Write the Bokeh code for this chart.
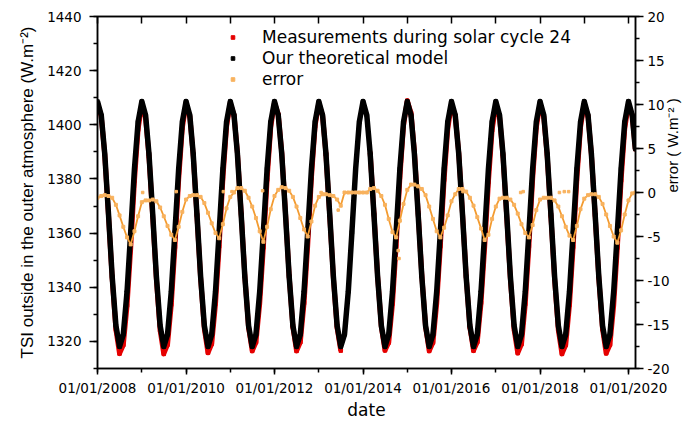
import math
import numpy as np
import pandas as pd
from bokeh.plotting import figure
from bokeh.models import (Range1d, LinearAxis, DatetimeAxis, FixedTicker, DatetimeTickFormatter,
                          CustomJSTickFormatter, CustomLabelingPolicy, Legend, LegendItem,
                          ColumnDataSource, Title)
from bokeh.embed import file_html
from bokeh.resources import INLINE

# ---------------- data (monthly readings, 1st of each month) ----------------
dates = list(pd.date_range("2008-01-01", "2020-02-01", freq="MS")) + [pd.Timestamp("2020-02-27")]

model = [
    1408.6, 1403.5, 1389.2, 1366.8, 1344.0, 1325.8, 1318.1, 1322.6, 1338.4, 1360.3, 1383.7, 1401.0,  # 2008
    1408.6, 1403.5, 1389.2, 1366.8, 1344.0, 1325.8, 1318.1, 1322.6, 1338.4, 1360.3, 1383.7, 1401.0,  # 2009
    1408.6, 1403.5, 1389.2, 1366.8, 1344.0, 1325.8, 1318.1, 1322.6, 1338.4, 1360.3, 1383.7, 1401.0,  # 2010
    1408.6, 1403.5, 1389.2, 1366.8, 1344.0, 1325.8, 1318.1, 1322.6, 1338.4, 1360.3, 1383.7, 1401.0,  # 2011
    1408.6, 1403.5, 1389.2, 1366.8, 1344.0, 1325.8, 1318.1, 1322.6, 1338.4, 1360.3, 1383.7, 1401.0,  # 2012
    1408.6, 1403.5, 1389.2, 1366.8, 1344.0, 1325.8, 1318.1, 1322.6, 1338.4, 1360.3, 1383.7, 1401.0,  # 2013
    1408.6, 1403.5, 1389.2, 1366.8, 1344.0, 1325.8, 1318.1, 1322.6, 1338.4, 1360.3, 1383.7, 1401.0,  # 2014
    1408.6, 1403.5, 1389.2, 1366.8, 1344.0, 1325.8, 1318.1, 1322.6, 1338.4, 1360.3, 1383.7, 1401.0,  # 2015
    1408.6, 1403.5, 1389.2, 1366.8, 1344.0, 1325.8, 1318.1, 1322.6, 1338.4, 1360.3, 1383.7, 1401.0,  # 2016
    1408.6, 1403.5, 1389.2, 1366.8, 1344.0, 1325.8, 1318.1, 1322.6, 1338.4, 1360.3, 1383.7, 1401.0,  # 2017
    1408.6, 1403.5, 1389.2, 1366.8, 1344.0, 1325.8, 1318.1, 1322.6, 1338.4, 1360.3, 1383.7, 1401.0,  # 2018
    1408.6, 1403.5, 1389.2, 1366.8, 1344.0, 1325.8, 1318.1, 1322.6, 1338.4, 1360.3, 1383.7, 1401.0,  # 2019
    1408.6, 1403.5, 1391.0,                                                                          # 2020
]

nan = float("nan")
measured = [
    1408.0, 1403.1, 1388.9, 1366.4, 1343.4, 1324.4, 1315.5, 1318.7, 1333.3, 1354.4, 1379.3, 1398.3,  # 2008
    1407.5, 1402.6, 1388.3, 1366.0, 1343.0, 1324.1, 1315.4, 1318.8, 1333.6, 1354.9, 1379.8, 1398.8,  # 2009
    1407.8, 1403.1, 1388.9, 1366.5, 1343.5, 1324.6, 1315.8, 1319.1, 1333.8, 1355.1, 1380.1, 1399.2,  # 2010
    1408.1, 1403.5, 1389.7, 1367.3, 1344.2, 1325.2, 1316.5, 1319.7, 1334.0, 1354.7, 1379.8, 1399.1,  # 2011
    1408.2, 1403.8, 1389.8, 1367.3, 1344.2, 1325.3, 1316.5, 1319.7, 1334.2, 1355.3, 1380.4, 1399.5,  # 2012
    1408.1, 1403.3, 1389.0, 1366.5, 1343.6, 1325.0, 1316.6, nan, nan, nan, nan, nan,                # 2013
    nan, nan, 1389.6, 1367.3, 1344.2, 1325.4, 1316.7, 1319.6, 1333.9, 1355.2, 1380.5, 1399.7,       # 2014
    1408.9, 1404.4, 1390.1, 1367.5, 1344.4, 1325.5, 1316.5, 1319.6, 1334.0, 1355.2, 1379.7, 1398.4,  # 2015
    1407.6, 1403.3, 1389.6, 1367.2, 1344.1, 1325.2, 1316.6, 1319.8, 1334.3, 1354.9, 1378.9, 1398.0,  # 2016
    1407.0, 1402.8, 1388.6, 1366.2, 1343.2, 1324.4, 1315.7, 1319.0, 1333.8, 1355.2, 1380.0, 1399.0,  # 2017
    1407.8, 1402.9, 1388.6, 1366.2, 1343.1, 1324.2, 1315.4, 1318.7, 1333.5, 1354.9, 1379.9, 1399.1,  # 2018
    1407.9, 1403.2, 1389.0, 1366.6, 1343.5, 1324.5, 1315.6, 1318.8, 1333.4, 1354.6, 1379.4, 1398.5,  # 2019
    1407.7, 1403.4, 1391.0,                                                                          # 2020
]

error = [
    -0.6, -0.4, -0.3, -0.4, -0.6, -1.4, -2.6, -3.9, -5.1, -5.9, -4.4, -2.7,  # 2008
    -1.1, -0.9, -0.9, -0.8, -1.0, -1.7, -2.7, -3.8, -4.8, -5.4, -3.9, -2.2,  # 2009
    -0.8, -0.4, -0.3, -0.3, -0.5, -1.2, -2.3, -3.5, -4.6, -5.2, -3.6, -1.8,  # 2010
    -0.5, 0.0, 0.5, 0.5, 0.2, -0.6, -1.6, -2.9, -4.4, -5.6, -3.9, -1.9,      # 2011
    -0.4, 0.3, 0.6, 0.5, 0.2, -0.5, -1.6, -2.9, -4.2, -5.0, -3.3, -1.5,      # 2012
    -0.5, -0.2, -0.2, -0.3, -0.4, -0.8, -1.5, 0.0, 0.0, 0.0, 0.0, 0.0,       # 2013
    0.0, 0.0, 0.4, 0.5, 0.2, -0.4, -1.4, -3.0, -4.5, -5.1, -3.2, -1.3,       # 2014
    0.3, 0.9, 0.9, 0.7, 0.4, -0.3, -1.6, -3.0, -4.4, -5.1, -4.0, -2.6,       # 2015
    -1.0, -0.2, 0.4, 0.4, 0.1, -0.6, -1.5, -2.8, -4.1, -5.4, -4.8, -3.0,     # 2016
    -1.6, -0.7, -0.6, -0.6, -0.8, -1.4, -2.4, -3.6, -4.6, -5.1, -3.7, -2.0,  # 2017
    -0.8, -0.6, -0.6, -0.6, -0.9, -1.6, -2.7, -3.9, -4.9, -5.4, -3.8, -1.9,  # 2018
    -0.7, -0.3, -0.2, -0.2, -0.5, -1.3, -2.5, -3.8, -5.0, -5.7, -4.3, -2.5,  # 2019
    -0.9, -0.1, 0.0,                                                         # 2020
]

stray_dates = ["2009-01-08", "2009-10-12", "2010-11-05", "2011-01-15", "2011-09-25", "2013-01-20",
               "2013-06-10", "2016-04-05", "2017-07-25", "2017-08-15", "2018-06-10", "2018-07-20",
               "2018-08-25", "2014-10-18", "2014-10-25"]
stray_error = [0.0, 0.1, 0.1, 0.1, 0.2, 0.0, -2.0, 0.1, 0.0, 0.1, 0.0, 0.1, 0.1, -6.6, -7.5]

tsi_major = [1320, 1340, 1360, 1380, 1400, 1420, 1440]
tsi_minor = [1310, 1320, 1330, 1340, 1350, 1360, 1370, 1380, 1390, 1400, 1410, 1420, 1430, 1440]
err_major = [-20, -15, -10, -5, 0, 5, 10, 15, 20]
err_minor = [-20, -17.5, -15, -12.5, -10, -7.5, -5, -2.5, 0, 2.5, 5, 7.5, 10, 12.5, 15, 17.5, 20]
label_years = [2008, 2010, 2012, 2014, 2016, 2018, 2020]
all_years = list(range(2008, 2021))

x_title = "date"
y_title = "TSI outside in the outer atmosphere (W.m\u207b\u00b2)"
y2_title = "error ( W.m\u207b\u00b2 )"
series_names = ["Measurements during solar cycle 24", "Our theoretical model", "error"]

# ---------------- figure ----------------
def ms(y):
    return pd.Timestamp(f"{y}-01-01").value / 1e6

src = ColumnDataSource(dict(date=np.array(dates, dtype="datetime64[ns]"),
                            model=np.array(model, dtype=float),
                            measured=np.array(measured, dtype=float),
                            error=np.array(error, dtype=float)))
stray = ColumnDataSource(dict(date=pd.to_datetime(stray_dates), error=stray_error))

p = figure(width=692, height=423, x_axis_type="datetime",
           x_range=Range1d(pd.Timestamp("2008-01-01"), pd.Timestamp("2020-02-28")),
           y_range=Range1d(1310, 1440),
           output_backend="svg", toolbar_location=None,
           min_border_left=97, min_border_right=57, min_border_top=16, min_border_bottom=55)
p.extra_y_ranges = {"err": Range1d(-20, 20)}
p.grid.visible = False
p.outline_line_color = "black"
p.outline_line_width = 1.5
p.background_fill_color = "white"
p.border_fill_color = "white"

RED = "#e50000"
ORANGE = "#f39b30"
ORANGE_PT = "#f8b25e"

p.line("date", "measured", source=src, color=RED, line_width=5, line_join="round")
r_red = p.scatter("date", "measured", source=src, marker="square", size=3.5, color=RED)
p.line("date", "model", source=src, color="black", line_width=5.5, line_join="round")
r_black = p.scatter("date", "model", source=src, marker="square", size=3.5, color="black")
p.line("date", "error", source=src, color=ORANGE, line_width=1.8, line_join="round", y_range_name="err")
r_err = p.scatter("date", "error", source=src, marker="square", size=3, color=ORANGE_PT, y_range_name="err")
p.scatter("date", "error", source=stray, marker="square", size=2.5, color=ORANGE_PT, y_range_name="err")

FONT = "DejaVu Sans"

# bottom axis
xa = p.xaxis[0]
xa.ticker = FixedTicker(ticks=[ms(y) for y in label_years], minor_ticks=[ms(y) for y in all_years])
fmt = "%m/%d/%Y"
xa.formatter = DatetimeTickFormatter(years=fmt, months=fmt, days=fmt, hours=fmt, minutes=fmt,
                                     seconds=fmt, milliseconds=fmt, hourmin=fmt, minsec=fmt)
xa.axis_label = x_title

# left axis
ya = p.yaxis[0]
ya.ticker = FixedTicker(ticks=tsi_major, minor_ticks=tsi_minor)

# right axis
ra = LinearAxis(y_range_name="err")
ra.ticker = FixedTicker(ticks=err_major, minor_ticks=err_minor)
ra.formatter = CustomJSTickFormatter(code="return tick.toString()")
ra.axis_label = y2_title
ra.axis_label_orientation = math.pi / 2
p.add_layout(ra, "right")

# top axis (ticks only, no labels)
ta = DatetimeAxis()
ta.ticker = FixedTicker(ticks=[ms(y) for y in all_years], minor_ticks=[])
ta.major_label_policy = CustomLabelingPolicy(code="return []")
ta.major_label_standoff = 0
ta.major_tick_out = 0
ta.major_tick_in = 7
ta.minor_tick_out = 0
ta.minor_tick_in = 0
ta.axis_line_width = 1.5
ta.major_tick_line_width = 1.5
p.add_layout(ta, "above")

for ax in (xa, ya, ra):
    ax.axis_line_width = 1.5
    ax.major_tick_line_width = 1.5
    ax.minor_tick_line_width = 1.5
    ax.major_tick_in = 0
    ax.minor_tick_in = 0
    ax.major_label_text_font = FONT
    ax.major_label_text_font_size = "13.5px"
    ax.major_label_text_color = "black"
    ax.axis_label_text_font_style = "normal"
    ax.axis_label_text_color = "black"

xa.major_tick_out = 6
xa.minor_tick_out = 4
xa.major_label_standoff = 5
xa.axis_label_text_font = FONT
xa.axis_label_text_font_size = "17px"
xa.axis_label_standoff = 1

ya.major_tick_out = 8
ya.minor_tick_out = 4
ya.major_label_standoff = 8

ra.major_tick_out = 8
ra.minor_tick_out = 4
ra.major_label_standoff = 4
ra.axis_label_text_font = "Liberation Sans"
ra.axis_label_text_font_size = "15px"
ra.axis_label_standoff = 0

# left title (reads bottom-to-top), shifted a little downward like the reference
p.add_layout(Title(text=y_title, align="center", offset=-9, standoff=15,
                   text_font="Liberation Sans", text_font_size="17px",
                   text_font_style="normal", text_color="black"), "left")

legend = Legend(items=[
    LegendItem(label=series_names[0], renderers=[r_red]),
    LegendItem(label=series_names[1], renderers=[r_black]),
    LegendItem(label=series_names[2], renderers=[r_err]),
], location=(121, 269), glyph_width=9, glyph_height=20, label_height=20, spacing=1,
    label_standoff=25, padding=10, margin=0, border_line_alpha=0, background_fill_alpha=0,
    label_text_font=FONT, label_text_font_size="17px", label_text_color="black")
p.add_layout(legend)

open("out.html", "w").write(file_html(p, INLINE))
